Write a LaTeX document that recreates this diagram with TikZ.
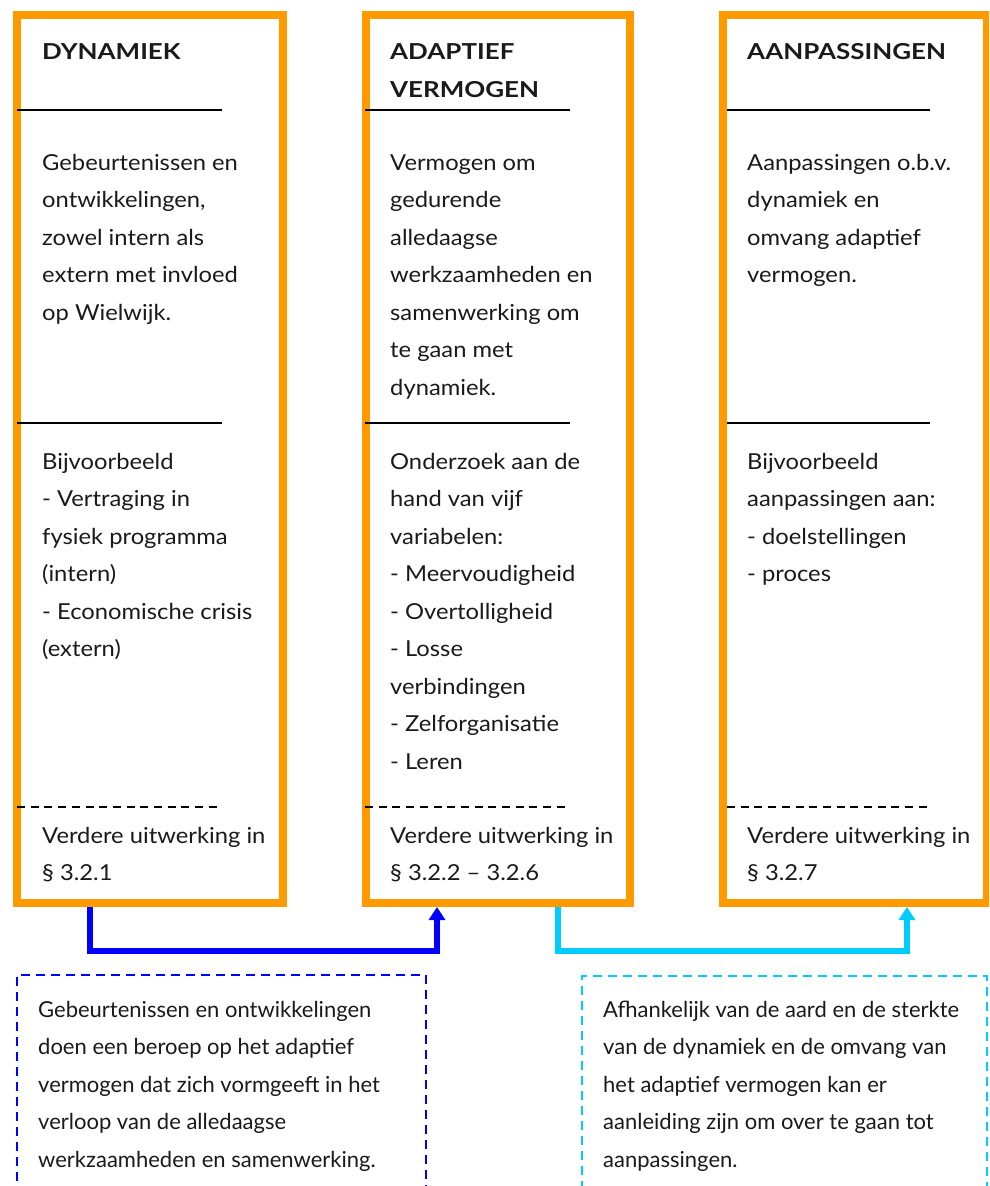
\documentclass[tikz,border=0pt]{standalone}
\usepackage{fontspec}
\setmainfont{Lato}
\newfontfamily\boxfont[FakeStretch=1.08]{Lato}
\newfontfamily\headfont[FakeStretch=1.18]{Lato}
\newfontfamily\condfont{Lato}
\usetikzlibrary{arrows.meta}
\definecolor{orng}{HTML}{FF9900}
\definecolor{cyanc}{HTML}{00CCFF}
\definecolor{bluec}{HTML}{0000FF}
\definecolor{txt}{HTML}{1A1A1A}
\begin{document}
\begin{tikzpicture}[x=1pt,y=-1pt,
  obox/.style={draw=orng,line width=8pt,minimum height=888pt,inner sep=0pt},
  sepline/.style={line width=1.6pt},
  dsepline/.style={line width=1.5pt,dash pattern=on 8pt off 5.7pt},
  body/.style={anchor=base west,inner sep=0pt,text=txt,font=\boxfont\fontsize{22}{37.5}\selectfont},
  head/.style={anchor=base west,inner sep=0pt,text=txt,font=\headfont\fontsize{22}{38}\selectfont\bfseries},
  cond/.style={anchor=base west,inner sep=0pt,text=txt,font=\condfont\fontsize{22}{37.5}\selectfont},
  con/.style={line width=5.5pt,-{Triangle[width=16pt,length=13pt]}},
  note/.style={line width=2.8pt,dash pattern=on 9pt off 6pt,inner sep=0pt,outer sep=0pt,anchor=north west}]
\useasboundingbox (0,0) rectangle (989,1186);
\clip (0,0) rectangle (989,1186);
% orange boxes
\node[obox,minimum width=266pt] (A) at (150,459) {};
\node[obox,minimum width=264pt] (B) at (498,459) {};
\node[obox,minimum width=264pt] (C) at (855,459) {};
% separators
\foreach \xa/\xb in {17/222,365/570,727/930}{
  \draw[sepline] (\xa,110) -- (\xb,110);
  \draw[sepline] (\xa,423) -- (\xb,423);
  \draw[dsepline] (\xa,807) -- (\xb,807);
}
% box 1 texts
\node[head] (h1) at (42,59) {DYNAMIEK};
\node[body] (a1) at (42,170) {\parbox[t]{240pt}{\raggedright Gebeurtenissen en\\ontwikkelingen,\\zowel intern als\\extern met invloed\\op Wielwijk.}};
\node[body] (a2) at (42,469) {\parbox[t]{240pt}{\raggedright Bijvoorbeeld\\- Vertraging in\\fysiek programma\\(intern)\\- Economische crisis\\(extern)}};
\node[body] (a3) at (42,843) {\parbox[t]{240pt}{\raggedright Verdere uitwerking in\\§ 3.2.1}};
% box 2 texts
\node[head] (h2) at (390,59) {\parbox[t]{240pt}{\raggedright ADAPTIEF\\VERMOGEN}};
\node[body] (b1) at (390,170) {\parbox[t]{240pt}{\raggedright Vermogen om\\gedurende\\alledaagse\\werkzaamheden en\\samenwerking om\\te gaan met\\dynamiek.}};
\node[body] (b2) at (390,469) {\parbox[t]{240pt}{\raggedright Onderzoek aan de\\hand van vijf\\variabelen:\\- Meervoudigheid\\- Overtolligheid\\- Losse\\verbindingen\\- Zelforganisatie\\- Leren}};
\node[body] (b3) at (390,843) {\parbox[t]{240pt}{\raggedright Verdere uitwerking in\\§ 3.2.2 – 3.2.6}};
% box 3 texts
\node[head] (h3) at (747,59) {AANPASSINGEN};
\node[body] (c1) at (747,170) {\parbox[t]{240pt}{\raggedright Aanpassingen o.b.v.\\dynamiek en\\omvang adaptief\\vermogen.}};
\node[body] (c2) at (747,469) {\parbox[t]{240pt}{\raggedright Bijvoorbeeld\\aanpassingen aan:\\- doelstellingen\\- proces}};
\node[body] (c3) at (747,843) {\parbox[t]{240pt}{\raggedright Verdere uitwerking in\\§ 3.2.7}};
% connectors
\coordinate (k1) at (90,951);
\coordinate (k2) at (437,951);
\coordinate (k3) at (558,951);
\coordinate (k4) at (907,951);
\draw[con,draw=bluec] (A.south -| k1) -- (k1) -- (k2) -- (B.south -| k2);
\draw[con,draw=cyanc] (B.south -| k3) -- (k3) -- (k4) -- (C.south -| k4);
% notes
\node[note,draw=bluec,minimum width=409pt,minimum height=260pt] (n1) at (17,975) {};
\node[note,draw=cyanc,minimum width=405pt,minimum height=260pt] (n2) at (582,976) {};
\node[cond] (m1) at (38,1017) {\parbox[t]{380pt}{\raggedright Gebeurtenissen en ontwikkelingen\\doen een beroep op het adaptief\\vermogen dat zich vormgeeft in het\\verloop van de alledaagse\\werkzaamheden en samenwerking.}};
\node[cond] (m2) at (603,1017) {\parbox[t]{385pt}{\raggedright Afhankelijk van de aard en de sterkte\\van de dynamiek en de omvang van\\het adaptief vermogen kan er\\aanleiding zijn om over te gaan tot\\aanpassingen.}};
\end{tikzpicture}
\end{document}
